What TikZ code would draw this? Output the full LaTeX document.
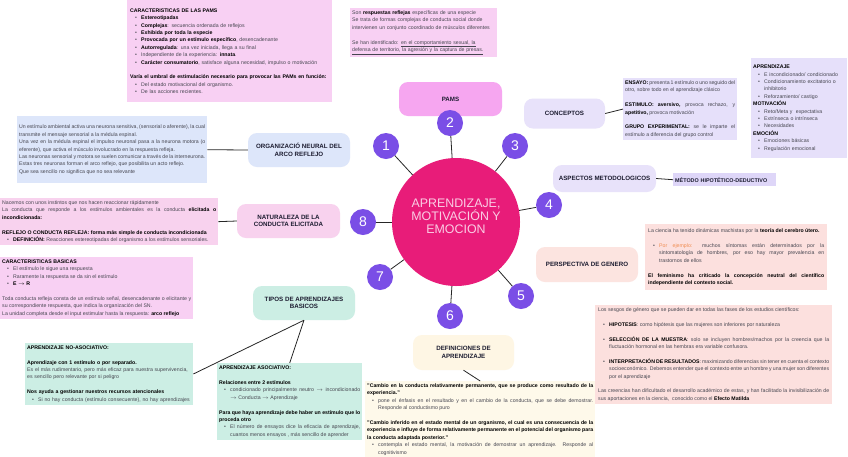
\documentclass[tikz,border=0pt]{standalone}
\usepackage{fontspec}
\setmainfont{Liberation Sans}
\usetikzlibrary{positioning}
\setlength{\parindent}{0pt}
\hyphenpenalty=10000
\exhyphenpenalty=10000
\definecolor{hubpink}{RGB}{232,28,121}
\definecolor{hubtext}{RGB}{250,205,228}
\definecolor{numviolet}{RGB}{122,78,230}
\definecolor{topicink}{RGB}{28,28,48}
\definecolor{noteink}{RGB}{70,70,80}
\definecolor{pamsbox}{RGB}{246,166,240}
\definecolor{pinknote}{RGB}{248,208,243}
\definecolor{natbox}{RGB}{248,210,238}
\definecolor{lavbox}{RGB}{232,226,250}
\definecolor{lavnote}{RGB}{230,224,250}
\definecolor{metbox}{RGB}{222,214,248}
\definecolor{perbox}{RGB}{252,228,224}
\definecolor{pernote}{RGB}{252,224,222}
\definecolor{orgbox}{RGB}{221,230,250}
\definecolor{mintbox}{RGB}{204,238,228}
\definecolor{defbox}{RGB}{254,246,228}
\definecolor{defnote}{RGB}{254,249,234}
\definecolor{ejorange}{RGB}{240,140,80}
\newcommand{\bul}[1]{\par\noindent\hangindent=11pt\hangafter=1\hspace*{5pt}\makebox[6pt][l]{\textbullet}#1\par}
\newcommand{\blankln}{\par\vspace{7.4pt}}
\newcommand{\bt}[1]{\textbf{\textcolor{black}{#1}}}

\begin{document}
\begin{tikzpicture}[x=1pt, y=-1pt,
   hub/.style={circle, fill=hubpink, minimum size=128pt, inner sep=0pt},
   hubtxt/.style={text=hubtext, align=center, font=\fontsize{12.4}{13.2}\selectfont},
   num/.style={circle, fill=numviolet, text=white, minimum size=26pt,
               inner sep=0pt, font=\fontsize{14}{14}\selectfont},
   topic/.style={rounded corners=9pt, align=center, inner sep=2pt,
                 text=topicink, font=\bfseries\fontsize{6.2}{7.6}\selectfont},
   note/.style={anchor=north west, inner xsep=2pt, inner ysep=2.5pt,
                align=justify, text=noteink, font=\fontsize{5.2}{7.4}\selectfont},
   link/.style={line width=0.8pt, black!85}]
  \fill[white] (0,0) rectangle (848,456);
  \useasboundingbox (0,0) rectangle (848,456);

  \node[topic, fill=pamsbox, minimum width=103pt, minimum height=34pt] (pams) at (450.5,99) {PAMS};
  \node[topic, fill=lavbox, minimum width=81pt, minimum height=30pt]  (conc) at (564.5,113.5) {CONCEPTOS};
  \node[topic, fill=lavbox, minimum width=103pt, minimum height=27pt] (asp) at (604.5,178.5) {ASPECTOS METODOLOGICOS};
  \node[topic, fill=perbox, minimum width=102pt, minimum height=35pt] (pers) at (587,264.5) {PERSPECTIVA DE GENERO};
  \node[topic, fill=orgbox, minimum width=102pt, minimum height=34pt] (org) at (299,150) {ORGANIZACIÓ NEURAL DEL\\ARCO REFLEJO};
  \node[topic, fill=natbox, minimum width=103pt, minimum height=34pt] (nat) at (288.5,221) {NATURALEZA DE LA\\CONDUCTA ELICITADA};
  \node[topic, fill=mintbox, minimum width=102pt, minimum height=34pt] (tipos) at (304,303) {TIPOS DE APRENDIZAJES\\BASICOS};
  \node[topic, fill=defbox, minimum width=101pt, minimum height=35pt] (defs) at (463.5,352.5) {DEFINICIONES DE\\APRENDIZAJE};

  \node[hub] (c) at (456,222) {};
  \node[hubtxt] (ct) at (456,216) {APRENDIZAJE,\\MOTIVACIÓN Y\\EMOCION};
  \foreach \n/\x/\y in {1/386/146, 2/450/123, 3/515/146, 4/549/205,
                        5/521/296, 6/450/316, 7/380/277, 8/363/222}
    {\node[num] (n\n) at (\x,\y) {\n};}
  \foreach \n in {1,...,8} {\draw[link] (n\n) -- (c);}

  \node[note, fill=pinknote, align=left, text width=199pt, minimum height=102pt, inner xsep=3pt] (dpams) at (127,0) {%
    \bt{CARACTERISTICAS DE LAS PAMS}
    \bul{\bt{Estereotipadas}}
    \bul{\bt{Complejas}: secuencia ordenada de reflejos}
    \bul{\bt{Exhibida por toda la especie}}
    \bul{\bt{Provocada por un estímulo específico}, desencadenante}
    \bul{\bt{Autorregulada}: una vez iniciada, llega a su final}
    \bul{Independiente de la experiencia: \bt{innata}.}
    \bul{\bt{Carácter consumatorio}, satisface alguna necesidad, impulso o motivación}
    \vspace{7.4pt}
    \bt{Varía el umbral de estimulación necesario para provocar las PAMs en función:}
    \bul{Del estado motivacional del organismo.}
    \bul{De las acciones recientes.}};
  \node[note, fill=pinknote, align=left, text width=143pt, minimum height=45pt] (dresp) at (350,8) {%
    Son \bt{respuestas reflejas} específicas de una especie\par
    Se trata de formas complejas de conducta social donde intervienen un conjunto coordinado de músculos diferentes
    \blankln
    Se han identificado: \underline{en el comportamiento sexual, la}\\
    \underline{defensa de territorio, la agresión y la captura de presas.}};

  \node[note, fill=lavnote, text width=110pt, minimum height=59pt] (dconc) at (623,78) {%
    \bt{ENSAYO:} presenta 1 estímulo o uno seguido del otro, sobre todo en el aprendizaje clásico
    \blankln
    \bt{ESTIMULO: aversivo,} provoca rechazo, y \bt{apetitivo,} provoca motivación
    \blankln
    \bt{GRUPO EXPERIMENTAL:} se le imparte el estímulo a diferencia del grupo control};
  \node[note, fill=lavnote, align=left, text width=92pt, minimum height=100pt] (dlist) at (751,58) {%
    \bt{APRENDIZAJE}
    \bul{E incondicionado/ condicionado}
    \bul{Condicionamiento excitatorio o inhibitorio}
    \bul{Reforzamiento/ castigo}
    \bt{MOTIVACIÓN}
    \bul{Reto/Meta y \ expectativa}
    \bul{Extrínseca o intrínseca}
    \bul{Necesidades}
    \bt{EMOCIÓN}
    \bul{Emociones básicas}
    \bul{Regulación emocional}};
  \node[note, fill=metbox, align=left, text width=99pt, minimum height=13pt, inner ysep=1pt,
        font=\bfseries\fontsize{5.4}{6}\selectfont, text=topicink] (dmet) at (673,173) {MÉTODO HIPOTÉTICO-DEDUCTIVO};

  \node[note, fill=pernote, text width=176pt, minimum height=66pt, inner xsep=3pt] (dpers) at (645,224) {%
    La ciencia ha tenido dinámicas machistas por la \bt{teoría del cerebro útero.}
    \blankln
    \bul{\textcolor{ejorange}{Por ejemplo:} muchos síntomas están determinados por la sintomatología de hombres, por eso hay mayor prevalencia en trastornos de ellos}
    \vspace{7.4pt}
    \bt{El feminismo ha criticado la concepción neutral del científico independiente del contexto social.}};
  \node[note, fill=pernote, text width=231pt, minimum height=95pt, inner xsep=3pt] (dsesg) at (595,305) {%
    Los sesgos de género que se pueden dar en todas las fases de los estudios científicos:
    \blankln
    \bul{\bt{HIPOTESIS}: como hipótesis que las mujeres son inferiores por naturaleza}
    \vspace{7.4pt}
    \bul{\bt{SELECCIÓN DE LA MUESTRA}: solo se incluyen hombres/machos por la creencia que la fluctuación hormonal en las hembras era variable confusora.}
    \vspace{7.4pt}
    \bul{\bt{INTERPRETACIÓN DE RESULTADOS}: maximizando diferencias sin tener en cuenta el contexto socioeconómico. Debemos entender que el contexto entre un hombre y una mujer son diferentes por el aprendizaje}
    \vspace{7.4pt}
    Las creencias han dificultado el desarrollo académico de estas, y han facilitado la invisibilización de sus aportaciones en la ciencia, \ conocido como el \bt{Efecto Matilda}};

  \node[note, fill=orgbox, text width=186pt, minimum height=67pt] (dorg) at (17,116) {%
    Un estímulo ambiental activa una neurona sensitiva, (sensorial o aferente), la cual transmite el mensaje sensorial a la médula espinal.\par
    Una vez en la médula espinal el impulso neuronal pasa a la neurona motora (o eferente), que activa el músculo involucrado en la respuesta refleja.\par
    Las neuronas sensorial y motora se suelen comunicar a través de la interneurona. Estas tres neuronas forman el arco reflejo, que posibilita un acto reflejo.\par
    Que sea sencillo no significa que no sea relevante};
  \node[note, fill=natbox, text width=214pt, minimum height=45pt] (dnat) at (0,198) {%
    Nacemos con unos instintos que nos hacen reaccionar rápidamente\par
    La conducta que responde a los estímulos ambientales es la conducta \bt{elicitada o incondicionada:}
    \blankln
    \bt{REFLEJO O CONDUCTA REFLEJA: forma más simple de conducta incondicionada}
    \bul{\bt{DEFINICIÓN:} Reacciones estereotipadas del organismo a los estímulos sensoriales.}};
  \node[note, fill=pinknote, text width=189pt, minimum height=56pt] (dcar) at (0,257) {%
    \bt{CARACTERISTICAS BASICAS}
    \bul{El estímulo le sigue una respuesta}
    \bul{Raramente la respuesta se da sin el estímulo}
    \bul{\bt{E $\to$ R}}
    \vspace{7.4pt}
    Toda conducta refleja consta de un estímulo señal, desencadenante o elicitante y su correspondiente respuesta, que indica la organización del SN.\par
    La unidad completa desde el input estimular hasta la respuesta: \bt{arco reflejo}};

  \node[note, fill=mintbox, align=left, text width=164pt, minimum height=59pt] (dno) at (25,343) {%
    \bt{APRENDIZAJE NO-ASOCIATIVO:}
    \blankln
    \bt{Aprendizaje con 1 estímulo o por separado.}\par
    Es el más rudimentario, pero más eficaz para nuestra supervivencia, es sencillo pero relevante por si peligro
    \blankln
    \bt{Nos ayuda a gestionar nuestros recursos atencionales}
    \bul{Si no hay conducta (estímulo consecuente), no hay aprendizajes}};
  \node[note, fill=mintbox, text width=141pt, minimum height=77pt] (daso) at (217,363) {%
    \bt{APRENDIZAJE ASOCIATIVO:}
    \blankln
    \bt{Relaciones entre 2 estímulos}
    \bul{condicionado principalmente neutro $\to$ incondicionado $\to$ Conducta $\to$ Aprendizaje}
    \vspace{7.4pt}
    \bt{Para que haya aprendizaje debe haber un estímulo que lo proceda otro}
    \bul{El número de ensayos dice la eficacia de aprendizaje, cuantos menos ensayos , más sencillo de aprender}};
  \node[note, fill=defnote, text width=226pt, minimum height=75pt] (ddef) at (365,381) {%
    \bt{"Cambio en la conducta relativamente permanente, que se produce como resultado de la experiencia."}
    \bul{pone el énfasis en el resultado y en el cambio de la conducta, que se debe demostrar. Responde al conductismo puro}
    \vspace{7.4pt}
    \bt{"Cambio inferido en el estado mental de un organismo, el cual es una consecuencia de la experiencia e influye de forma relativamente permanente en el potencial del organismo para la conducta adaptada posterior."}
    \bul{contempla el estado mental, la motivación de demostrar un aprendizaje. Responde al cognitivismo}};

  \draw[link] (org.west) -- (dorg.east);
  \draw[link] (nat.west) -- (dnat.east);
  \draw[link] (conc.east) -- (dconc.west);
  \draw[link] (asp.east) -- (dmet.west);
  \draw[link] (tipos.south) -- (dno.east);
  \draw[link] (tipos.south) -- (daso.north);
  \draw[link] (defs.south) -- (ddef.north);
\end{tikzpicture}
\end{document}
